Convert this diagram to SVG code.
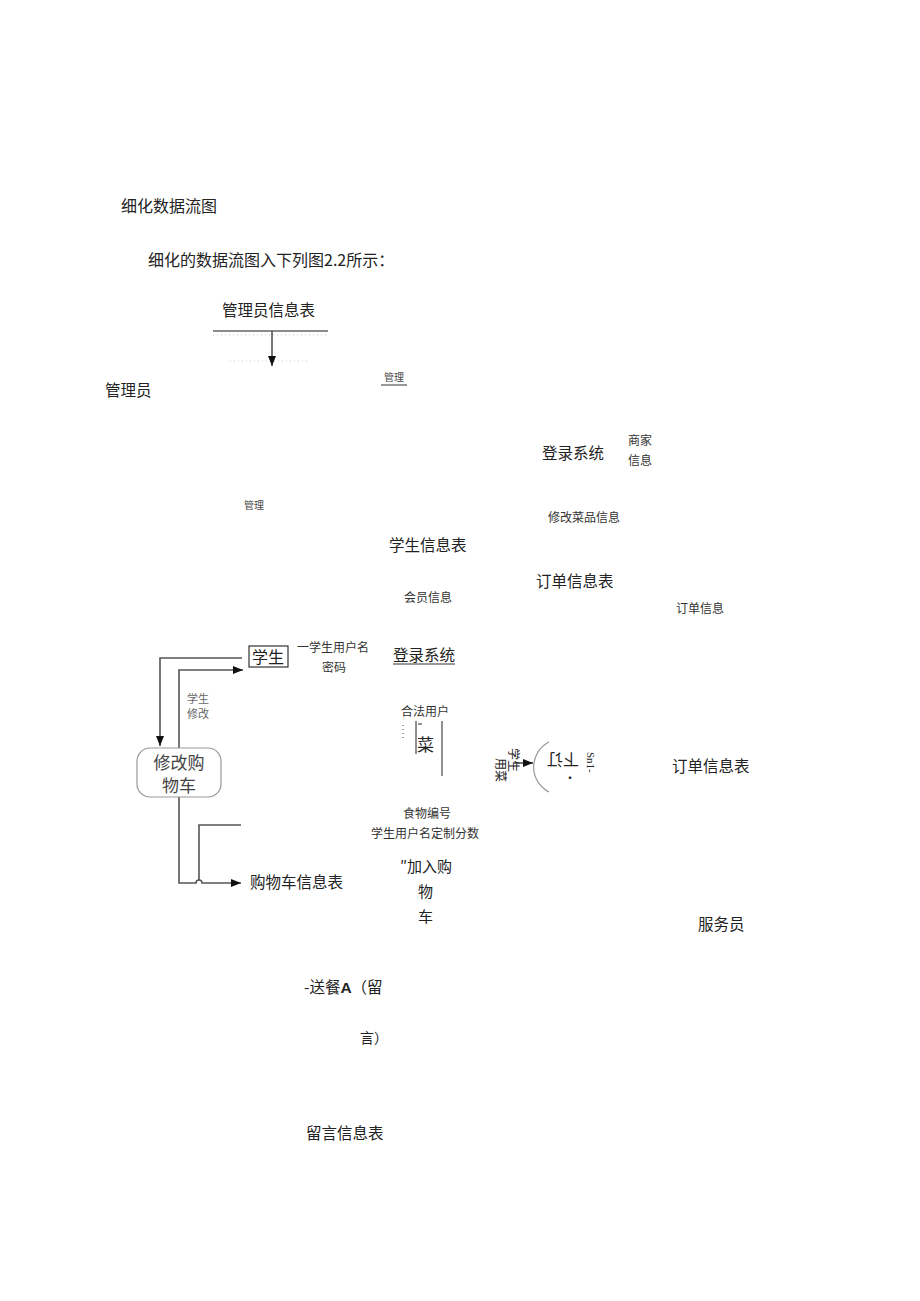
<svg xmlns="http://www.w3.org/2000/svg" width="920" height="1301" viewBox="0 0 920 1301">
<style>
text{font-family:"Noto Sans CJK SC","Noto Sans",sans-serif;fill:#222}
.h{font-size:16px}
.l{font-size:15.5px}
.m{font-size:12px;fill:#333}
.s{font-size:10px;fill:#444}
.g{font-size:11px;fill:#666}
.c{stroke:#555;stroke-width:1.6;fill:none}
.d{stroke:#ccc;stroke-width:1;stroke-dasharray:1 3;fill:none}
</style>
<defs>
<marker id="ahb" viewBox="0 0 10 10" refX="10" refY="5" markerWidth="10" markerHeight="10" orient="auto" markerUnits="userSpaceOnUse"><path d="M0,1 L10,5 L0,9 z" fill="#111"/></marker>
</defs>
<rect width="920" height="1301" fill="#fff"/>
<g id="title"><text x="121" y="212" class="h">细化数据流图</text></g>
<g id="intro"><text x="148" y="266" class="h">细化的数据流图入下列图2.2所示：</text></g>

<g id="connectors">
<line x1="213" y1="331" x2="328" y2="331" stroke="#666" stroke-width="1.5"/>
<line x1="213" y1="335" x2="328" y2="335" class="d"/>
<line x1="230" y1="361" x2="310" y2="361" class="d"/>
<line x1="272" y1="331" x2="272" y2="366" class="c" stroke="#666" marker-end="url(#ahb)"/>
<line x1="381" y1="385" x2="407" y2="385" stroke="#333" stroke-width="1"/>
<line x1="393" y1="664" x2="455" y2="664" stroke="#333" stroke-width="1"/>
<path d="M242,658 H160 V746" class="c" marker-end="url(#ahb)"/>
<path d="M179,748 V670 H243" class="c" marker-end="url(#ahb)"/>
<path d="M179,797 V883 H196 A3,3 0 0 1 202,883 H241" class="c" marker-end="url(#ahb)"/>
<path d="M199,880 V825 H241" class="c"/>
<line x1="403" y1="725" x2="403" y2="741" stroke="#444" stroke-width="1" stroke-dasharray="1 3"/>
<line x1="416" y1="721" x2="416" y2="754" stroke="#222" stroke-width="1"/>
<line x1="442" y1="721" x2="442" y2="776" stroke="#222" stroke-width="1"/>
<path d="M418,724 h4" stroke="#222" stroke-width="1"/>
<line x1="514" y1="763" x2="533" y2="763" class="c" marker-end="url(#ahb)"/>
<path d="M549,742 A28,28 0 0 0 549,792" stroke="#999" stroke-width="1.2" fill="none"/>
</g>

<g id="admin-table"><text x="222" y="316" class="l">管理员信息表</text></g>
<g id="label-manage1"><text x="384" y="381" class="s">管理</text></g>
<g id="admin"><text x="105" y="396" class="l">管理员</text></g>
<g id="login1"><text x="542" y="459" class="l">登录系统</text></g>
<g id="label-merchant"><text x="628" y="445" class="m">商家</text><text x="628" y="465" class="m">信息</text></g>
<g id="label-manage2"><text x="244" y="509" class="s">管理</text></g>
<g id="label-edit-dish"><text x="548" y="522" class="m">修改菜品信息</text></g>
<g id="student-table"><text x="389" y="551" class="l">学生信息表</text></g>
<g id="order-table1"><text x="536" y="587" class="l">订单信息表</text></g>
<g id="label-member"><text x="404" y="602" class="m">会员信息</text></g>
<g id="label-order"><text x="676" y="613" class="m">订单信息</text></g>

<g id="student"><rect x="249" y="646" width="39" height="21" fill="#fff" stroke="#333" stroke-width="1.2"/><text x="252" y="663" style="font-size:16px">学生</text></g>
<g id="label-userpw"><text x="297" y="652" class="m">一学生用户名</text><text x="322" y="672" class="m">密码</text></g>
<g id="login2"><text x="393" y="661" class="l">登录系统</text></g>
<g id="label-stu-edit"><text x="187" y="703" class="g">学生</text><text x="187" y="718" class="g">修改</text></g>
<g id="edit-cart"><rect x="137" y="748" width="84" height="49" rx="13" fill="#fff" stroke="#999" stroke-width="1.2"/><text x="179" y="769" text-anchor="middle" style="font-size:17px;fill:#444">修改购</text><text x="179" y="792" text-anchor="middle" style="font-size:17px;fill:#444">物车</text></g>
<g id="label-legal"><text x="401" y="716" class="m">合法用户</text></g>
<g id="dish"><text x="417" y="751" style="font-size:17px">菜</text></g>
<g id="label-stu-dish"><text transform="translate(509,748) rotate(90)" style="font-size:12px">学生</text><text transform="translate(496,758) rotate(90)" style="font-size:12px">用菜</text></g>
<g id="order"><text transform="translate(579,754) rotate(180)" style="font-size:16px">下订</text><text x="564" y="783" style="font-size:12px">·</text><text transform="translate(587,752) rotate(90)" style="font-size:11px;font-family:'Liberation Serif',serif">Sn1-</text></g>
<g id="order-table2"><text x="672" y="772" class="l">订单信息表</text></g>
<g id="label-food"><text x="403" y="818" class="m">食物编号</text><text x="371" y="838" class="m">学生用户名定制分数</text></g>
<g id="cart-table"><text x="250" y="888" class="l">购物车信息表</text></g>
<g id="add-cart"><text x="400" y="872" style="font-size:15px">″加入购</text><text x="418" y="897" style="font-size:15px">物</text><text x="418" y="922" style="font-size:15px">车</text></g>
<g id="waiter"><text x="698" y="930" class="l">服务员</text></g>
<g id="deliver"><text x="304" y="993" class="l">-送餐<tspan style="font-family:'Liberation Sans',sans-serif;font-weight:bold">A</tspan>（留</text><text x="360" y="1043" style="font-size:14px">言）</text></g>
<g id="message-table"><text x="306" y="1139" class="l">留言信息表</text></g>
</svg>
